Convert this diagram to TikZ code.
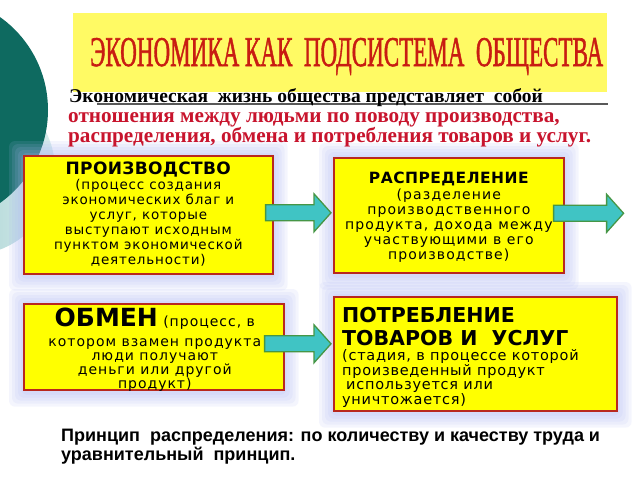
\documentclass[tikz,border=0pt]{standalone}
\usepackage{fontspec}
\setmainfont{Liberation Serif}
\newfontfamily\boxfont{DejaVu Sans}
\newfontfamily\arialfont{Liberation Sans}
\newfontfamily\titlefont[FakeBold=1.6]{Liberation Serif}
\usetikzlibrary{calc,backgrounds}
\pgfdeclarelayer{bglayer}
\pgfdeclarelayer{glowlayer}
\pgfsetlayers{bglayer,glowlayer,main}
\definecolor{boxyellow}{RGB}{255,255,0}
\definecolor{boxborder}{RGB}{185,40,30}
\definecolor{titlered}{RGB}{200,28,18}
\definecolor{subred}{RGB}{200,20,45}
\definecolor{arrowfill}{RGB}{64,196,196}
\definecolor{arrowedge}{RGB}{70,150,70}
\definecolor{darkteal}{RGB}{14,106,96}
\definecolor{lightteal}{RGB}{130,192,192}
\definecolor{glowblue}{RGB}{175,185,245}
\definecolor{titleyellow}{RGB}{255,250,100}
\tikzset{
  stagebox/.style={draw=boxborder, line width=1.6pt, fill=boxyellow, inner sep=0pt, anchor=north west},
  bodytext/.style={inner sep=0pt, text=black},
  arrowshape/.style={fill=arrowfill, draw=arrowedge, line width=1.3pt, line join=miter},
  glowrect/.style={fill=glowblue, fill opacity=0.13, rounded corners=6pt}
}
\newcommand\blockarrow[2]{%
  \path[arrowshape] let \p1=(#1), \p2=(#2) in
    (\x1,\y1+8pt) -- (\x2-17pt,\y1+8pt) -- (\x2-17pt,\y1+19pt) -- (\x2,\y1)
    -- (\x2-17pt,\y1-19pt) -- (\x2-17pt,\y1-8pt) -- (\x1,\y1-8pt) -- cycle;}
\newcommand\glowaround[1]{%
  \foreach \g in {2,5,8,11,14}{
    \path[glowrect] ($(#1.north west)+(-\g,-\g)$) rectangle ($(#1.south east)+(\g,\g+2)$);}}
\begin{document}
\begin{tikzpicture}[x=1pt,y=-1pt]
\useasboundingbox (0,0) rectangle (640,480);
\begin{pgfonlayer}{bglayer}
  \fill[white] (0,0) rectangle (640,480);
  \shade[left color=lightteal, right color=white!70!lightteal] (-30,170) circle (85);
  \fill[darkteal] (-66,110) circle (114);
\end{pgfonlayer}

% title
\node[fill=titleyellow, minimum width=534pt, minimum height=79pt, inner sep=0pt, anchor=north west] (titlebox) at (73,13) {};
\node[anchor=base west, inner sep=0pt, text=titlered] (title) at (90,66)
  {\resizebox{513pt}{28pt}{\titlefont\fontsize{40}{40}\selectfont ЭКОНОМИКА КАК\ \ ПОДСИСТЕМА\ \ ОБЩЕСТВА}};

% subtitle
\draw[gray!70!black, line width=1.2pt] (97,104) coordinate (ulstart) -- (608,104) coordinate (ulend);
\node[anchor=base west, inner sep=0pt, font=\bfseries\fontsize{19.5}{20}\selectfont] (sub1) at (69,102)
  {Экономическая\ \ жизнь общества представляет\ \ собой};
\node[anchor=base west, inner sep=0pt, text=subred, font=\bfseries\fontsize{21.2}{22}\selectfont] (sub2) at (68,122)
  {отношения между людьми по поводу производства,};
\node[anchor=base west, inner sep=0pt, text=subred, font=\bfseries\fontsize{21.2}{22}\selectfont] (sub3) at (68,142)
  {распределения, обмена и потребления товаров и услуг.};

% boxes
\node[stagebox, minimum width=249pt, minimum height=118pt] (prod) at (23,155) {};
\node[stagebox, minimum width=230pt, minimum height=115pt] (distr) at (333,157) {};
\node[stagebox, minimum width=260pt, minimum height=86pt] (exch) at (23,303) {};
\node[stagebox, minimum width=283pt, minimum height=114pt] (cons) at (333,296) {};

\begin{pgfonlayer}{glowlayer}
  \glowaround{prod}
  \glowaround{distr}
  \glowaround{exch}
  \glowaround{cons}
\end{pgfonlayer}

\node[bodytext, align=center, anchor=north, font=\boxfont\addfontfeature{LetterSpace=6}\fontsize{13.5}{15}\selectfont] (prodtext) at ($(prod.north)+(0,7)$)
  {{\bfseries\fontsize{17}{18}\selectfont\addfontfeature{LetterSpace=2}ПРОИЗВОДСТВО}\\
   (процесс создания\\ экономических благ и\\ услуг, которые\\ выступают исходным\\ пунктом экономической\\ деятельности)};
\node[bodytext, align=center, anchor=north, font=\boxfont\addfontfeature{LetterSpace=8}\fontsize{14}{15}\selectfont] (distrtext) at ($(distr.north)+(0,15)$)
  {{\bfseries\fontsize{15.5}{18}\selectfont\addfontfeature{LetterSpace=3}РАСПРЕДЕЛЕНИЕ}\\[1pt]
   (разделение\\ производственного\\ продукта, дохода между\\ участвующими в его\\ производстве)};
\node[bodytext, align=center, anchor=north, font=\boxfont\addfontfeature{LetterSpace=7}\fontsize{14}{14}\selectfont] (exchtext) at ($(exch.north)+(1,5)$)
  {{\bfseries\fontsize{25}{26}\selectfont\addfontfeature{LetterSpace=0}ОБМЕН} (процесс, в\\[6pt]
   котором взамен продукта\\ люди получают\\ деньги или другой\\ продукт)};
\node[bodytext, align=left, anchor=north west, font=\boxfont\addfontfeature{LetterSpace=5}\fontsize{14.5}{14.8}\selectfont] (constext) at ($(cons.north west)+(9,11)$)
  {{\bfseries\fontsize{20.5}{21}\selectfont\addfontfeature{LetterSpace=0}ПОТРЕБЛЕНИЕ}\\[6.5pt]
   {\bfseries\fontsize{20.5}{21}\selectfont\addfontfeature{LetterSpace=0}ТОВАРОВ И\ \ УСЛУГ}\\
   (стадия, в процессе которой\\ произведенный продукт\\ \hspace*{4pt}используется или\\ уничтожается)};

% arrows
\coordinate (a1s) at ($(prod.east)+(-8,-2)$);
\coordinate (a1e) at ($(distr.west)+(-2,0)$);
\coordinate (a2s) at ($(distr.east)+(-11,-2)$);
\coordinate (a2e) at ($(distr.east)+(59,0)$);
\coordinate (a3s) at ($(exch.east)+(-20,-3)$);
\coordinate (a3e) at ($(cons.west)+(-2,0)$);
\blockarrow{a1s}{a1e}
\blockarrow{a2s}{a2e}
\blockarrow{a3s}{a3e}

% bottom text
\node[anchor=north west, inner sep=0pt, align=left, font=\arialfont\bfseries\fontsize{18}{18.5}\selectfont] (principle) at (61,429)
  {Принцип\ \ распределения: по количеству и качеству труда и\\ уравнительный\ \ принцип.};
\end{tikzpicture}
\end{document}
